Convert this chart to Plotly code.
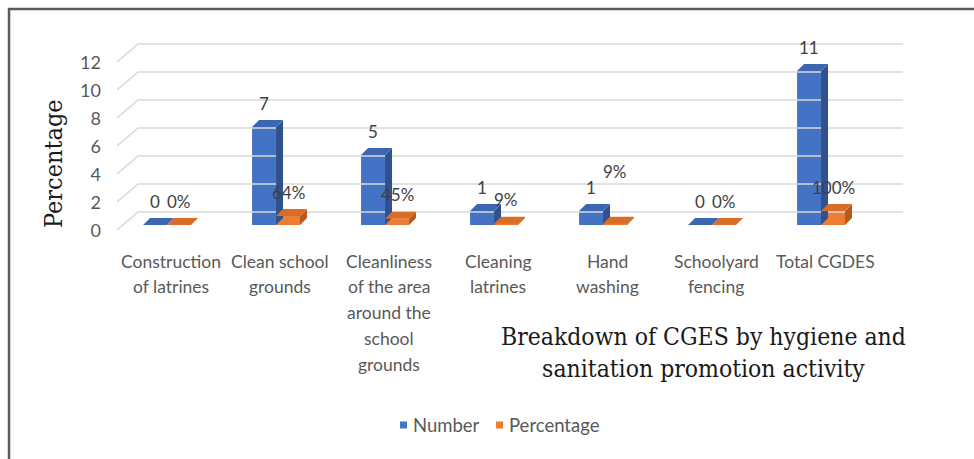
import plotly.graph_objects as go

# ---- data -------------------------------------------------------------
categories = [
    "Construction\nof latrines",
    "Clean school\ngrounds",
    "Cleanliness\nof the area\naround the\nschool\ngrounds",
    "Cleaning\nlatrines",
    "Hand\nwashing",
    "Schoolyard\nfencing",
    "Total CGDES",
]
number = [0, 7, 5, 1, 1, 0, 11]
percentage = [0, 64, 45, 9, 9, 0, 100]
y_ticks = [0, 2, 4, 6, 8, 10, 12]
series_names = ["Number", "Percentage"]

# ---- canvas geometry (pixels) -----------------------------------------
W, H = 974, 459
L, R, T, B = 117, 71, 20, 219
PW, PH = W - L - R, H - T - B
X_RANGE = [-0.459, 6.752]
Y_RANGE = [-15 / 14, 205 / 14]
PX_X = (X_RANGE[1] - X_RANGE[0]) / PW      # data units per pixel (x)
PX_Y = (Y_RANGE[1] - Y_RANGE[0]) / PH      # data units per pixel (y)

BAR_W = 0.22                 # front face width of one bar
DEPTH_X, DEPTH_Y = 7, 7      # 3-D extrusion of the bars, pixels
GRID_BACK, GRID_FRONT = 13, 5  # wall offset of the gridlines, pixels
WALL_X0, WALL_X1 = 138, 903    # back wall start/end, pixels

BLUE = dict(front="#4472C4", top="#3C65B2", side="#2F528F")
ORANGE = dict(front="#ED7D31", top="#D96D25", side="#B65A1D")

TEXT_FONT = "Lato, 'Open Sans', sans-serif"
SERIF_FONT = "'DejaVu Serif Condensed', 'DejaVu Serif', serif"


def px_x(px):
    return X_RANGE[0] + (px - L) * PX_X


def paper_x(px):
    return (px - L) / PW


def paper_y(py):
    return 1 - (py - T) / PH


fig = go.Figure()

# ---- gridlines on the back wall, with the slanted side-wall ticks -------
gx, gy = [], []
for v in y_ticks:
    back = v + GRID_BACK * PX_Y
    front = v - GRID_FRONT * PX_Y
    gx += [X_RANGE[0], px_x(WALL_X0), px_x(WALL_X1), None]
    gy += [front, back, back, None]
fig.add_trace(go.Scatter(x=gx, y=gy, mode="lines", hoverinfo="skip",
                         line=dict(color="#D9D9D9", width=1.6),
                         showlegend=False))


# ---- 3-D columns -----------------------------------------------------------
def add_series(values, name, colors, offset):
    xs = list(range(len(values)))
    fig.add_trace(go.Bar(x=xs, y=values, width=BAR_W, offset=offset,
                         name=name, showlegend=False,
                         marker=dict(color=colors["front"],
                                     line=dict(width=0))))
    dx, dy = DEPTH_X * PX_X, DEPTH_Y * PX_Y
    sx, sy, tx, ty = [], [], [], []
    for i, v in zip(xs, values):
        x0 = i + offset
        x1 = x0 + BAR_W
        sx += [x1, x1 + dx, x1 + dx, x1, x1, None]
        sy += [0, dy, v + dy, v, 0, None]
        tx += [x0, x0 + dx, x1 + dx, x1, x0, None]
        ty += [v, v + dy, v + dy, v, v, None]
    fig.add_trace(go.Scatter(x=sx, y=sy, fill="toself", mode="lines",
                             fillcolor=colors["side"], line=dict(width=0),
                             hoverinfo="skip", showlegend=False))
    fig.add_trace(go.Scatter(x=tx, y=ty, fill="toself", mode="lines",
                             fillcolor=colors["top"], line=dict(width=0),
                             hoverinfo="skip", showlegend=False))


pct_share = [p / 100 for p in percentage]
add_series(number, series_names[0], BLUE, -BAR_W)
add_series(pct_share, series_names[1], ORANGE, 0)

# ---- value labels ----------------------------------------------------------
label_lift = 24
pct_extra_lift = {4: 28}
for i, (n, p, s) in enumerate(zip(number, percentage, pct_share)):
    fig.add_annotation(x=i - BAR_W / 2, y=n, text=str(n), showarrow=False,
                       xanchor="center", yanchor="middle", yshift=label_lift,
                       font=dict(family=TEXT_FONT, size=17, color="#404040"))
    fig.add_annotation(x=i + BAR_W / 2, y=s, text=f"{p}%", showarrow=False,
                       xanchor="center", yanchor="middle",
                       yshift=label_lift + pct_extra_lift.get(i, 0),
                       font=dict(family=TEXT_FONT, size=17, color="#404040"))

# ---- category labels (one line at a time for Excel-like spacing) ----------
for i, label in enumerate(categories):
    for k, line in enumerate(label.split("\n")):
        fig.add_annotation(x=i, xref="x", y=0, yref="paper",
                           xanchor="center", yanchor="middle", xshift=4,
                           yshift=-(21 + 25.8 * k), text=line,
                           showarrow=False,
                           font=dict(family=TEXT_FONT, size=17.5,
                                     color="#595959"))

# ---- axis title and caption ------------------------------------------------
fig.add_annotation(x=paper_x(53), y=paper_y(164), xref="paper", yref="paper",
                   xanchor="center", yanchor="middle",
                   text="Percentage", textangle=-90, showarrow=False,
                   font=dict(family=SERIF_FONT, size=25, color="#1a1a1a"))
fig.add_annotation(x=paper_x(703), y=paper_y(352), xref="paper",
                   yref="paper", xanchor="center", yanchor="middle",
                   text="Breakdown of CGES by hygiene and<br>"
                        "sanitation promotion activity",
                   showarrow=False, align="center",
                   font=dict(family=SERIF_FONT, size=24.5, color="#1a1a1a"))

# ---- legend: small swatch followed by the series name ----------------------
legend_items = [(series_names[0], BLUE["front"], 400),
                (series_names[1], ORANGE["front"], 496)]
LEG_Y, SW = 425, 7
for name, color, x_px in legend_items:
    fig.add_shape(type="rect", xref="paper", yref="paper",
                  x0=paper_x(x_px), x1=paper_x(x_px + SW),
                  y0=paper_y(LEG_Y + SW / 2), y1=paper_y(LEG_Y - SW / 2),
                  fillcolor=color, line=dict(width=0))
    fig.add_annotation(x=paper_x(x_px + SW + 4), y=paper_y(LEG_Y),
                       xref="paper", yref="paper", xanchor="left",
                       yanchor="middle", text=name, showarrow=False,
                       font=dict(family=TEXT_FONT, size=18.5,
                                 color="#595959"))

# ---- frame around the chart ------------------------------------------------
fig.add_shape(type="path", xref="paper", yref="paper",
              path=f"M {paper_x(9)} {paper_y(H + 5)} L {paper_x(9)} "
                   f"{paper_y(9)} L {paper_x(W + 5)} {paper_y(9)}",
              line=dict(color="#5A5A5A", width=2.5))

fig.update_layout(
    width=W, height=H,
    margin=dict(l=L, r=R, t=T, b=B, pad=0),
    paper_bgcolor="white", plot_bgcolor="white",
    barmode="overlay",
    showlegend=False,
    xaxis=dict(range=X_RANGE, showgrid=False, zeroline=False,
               showticklabels=False, showline=False, fixedrange=True),
    yaxis=dict(range=Y_RANGE, tickvals=y_ticks, showgrid=False,
               zeroline=False, showline=False, ticklabelshift=6,
               ticklabelstandoff=15,
               tickfont=dict(family=TEXT_FONT, size=18, color="#595959")),
)

fig.write_html("out.html")
